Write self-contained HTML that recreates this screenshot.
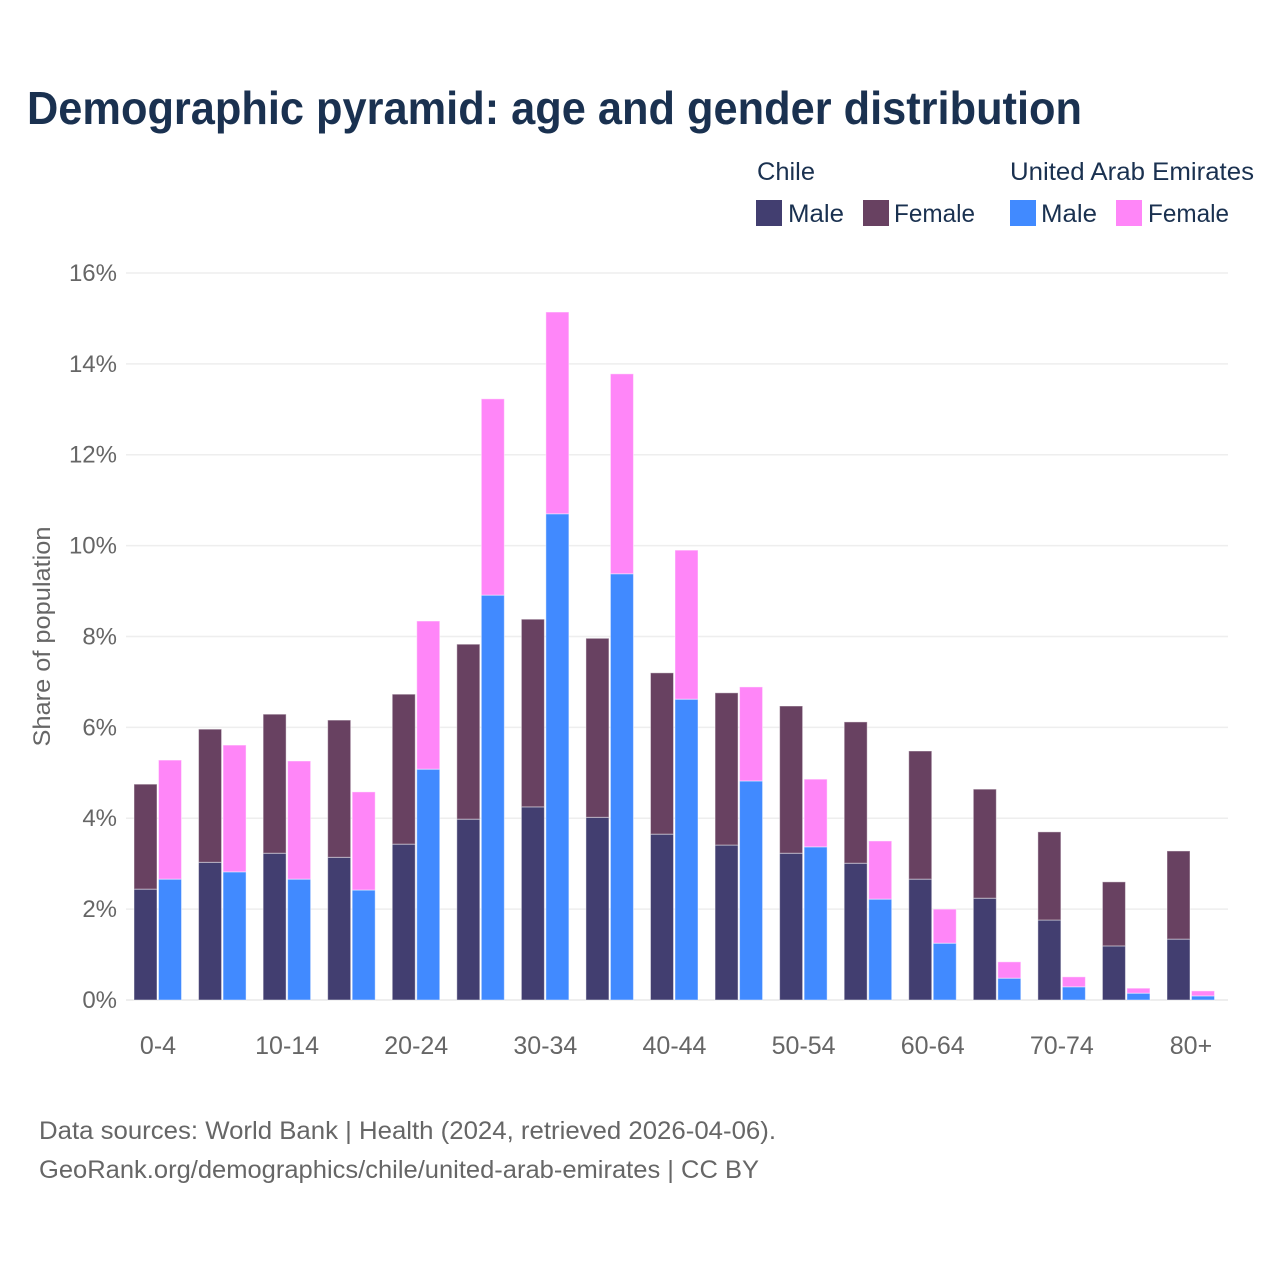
<!DOCTYPE html>
<html lang="en">
<head>
<meta charset="utf-8">
<title>Demographic pyramid: age and gender distribution</title>
<style>
  html, body { margin: 0; padding: 0; background: #fff; }
  svg { display: block; font-family: "Liberation Sans", Arial, sans-serif; }
</style>
</head>
<body>
<svg id="chart" xmlns="http://www.w3.org/2000/svg" width="1280" height="1280" viewBox="0 0 1280 1280">
  <rect width="1280" height="1280" fill="#ffffff"/>
  <text x="27" y="124" font-size="46" font-weight="700" fill="#1a3150" textLength="1055" lengthAdjust="spacingAndGlyphs">Demographic pyramid: age and gender distribution</text>

  <g font-size="25" fill="#1a3150">
    <text x="757" y="180" textLength="58" lengthAdjust="spacingAndGlyphs">Chile</text>
    <text x="1010" y="180" textLength="244" lengthAdjust="spacingAndGlyphs">United Arab Emirates</text>
    <rect x="756" y="200" width="26" height="26" fill="#423e70"/>
    <text x="788" y="222" textLength="56" lengthAdjust="spacingAndGlyphs">Male</text>
    <rect x="863" y="200" width="26" height="26" fill="#684161"/>
    <text x="894" y="222" textLength="81" lengthAdjust="spacingAndGlyphs">Female</text>
    <rect x="1010" y="200" width="26" height="26" fill="#418aff"/>
    <text x="1041" y="222" textLength="56" lengthAdjust="spacingAndGlyphs">Male</text>
    <rect x="1116" y="200" width="26" height="26" fill="#ff86f8"/>
    <text x="1148" y="222" textLength="81" lengthAdjust="spacingAndGlyphs">Female</text>
  </g>

  <g id="grid"></g>
  <g id="yticks" font-size="24" fill="#666666" text-anchor="end"></g>
  <g id="bars"></g>
  <g id="xticks" font-size="25" fill="#666666" text-anchor="middle"></g>

  <text transform="translate(50 636.5) rotate(-90)" font-size="24" fill="#666666" text-anchor="middle" textLength="220" lengthAdjust="spacingAndGlyphs">Share of population</text>

  <text x="39" y="1139" font-size="25" fill="#666666" textLength="737" lengthAdjust="spacingAndGlyphs">Data sources: World Bank | Health (2024, retrieved 2026-04-06).</text>
  <text x="39" y="1178" font-size="25" fill="#666666" textLength="720" lengthAdjust="spacingAndGlyphs">GeoRank.org/demographics/chile/united-arab-emirates | CC BY</text>
</svg>

<script>
const categories = ["0-4","5-9","10-14","15-19","20-24","25-29","30-34","35-39","40-44","45-49","50-54","55-59","60-64","65-69","70-74","75-79","80+"];
const chileMale = [2.44,3.03,3.23,3.14,3.43,3.98,4.25,4.02,3.65,3.41,3.23,3.01,2.66,2.24,1.76,1.19,1.34];
const chileFemale = [2.31,2.93,3.06,3.02,3.30,3.85,4.13,3.94,3.55,3.35,3.24,3.11,2.82,2.40,1.94,1.41,1.94];
const uaeMale = [2.66,2.82,2.66,2.42,5.08,8.91,10.70,9.38,6.62,4.82,3.37,2.22,1.25,0.48,0.29,0.15,0.09];
const uaeFemale = [2.62,2.79,2.60,2.16,3.26,4.32,4.44,4.40,3.28,2.07,1.49,1.28,0.75,0.36,0.22,0.11,0.11];
const yTickValues = [0,2,4,6,8,10,12,14,16];
const xTickLabels = ["0-4","","10-14","","20-24","","30-34","","40-44","","50-54","","60-64","","70-74","","80+"];

const NS = "http://www.w3.org/2000/svg";
const yScale = v => 1000 - v * 45.44;
const xCenter = i => 158 + i * (1033 / (categories.length - 1));
const BAR_WIDTH = 23;

function make(tag, attrs, parent) {
  const el = document.createElementNS(NS, tag);
  Object.keys(attrs).forEach(k => el.setAttribute(k, attrs[k]));
  parent.appendChild(el);
  return el;
}

const gridGroup = document.getElementById("grid");
const yTickGroup = document.getElementById("yticks");
yTickValues.forEach(v => {
  const line = make("line", {x1: 126, x2: 1228, y1: yScale(v), y2: yScale(v), stroke: "#eeeeee", "stroke-width": v === 0 ? 2 : 1.5}, gridGroup);
  
  
  const label = make("text", {x: 117, y: yScale(v) + 8}, yTickGroup);
  label.textContent = v + "%";
  
  
});

const barGroup = document.getElementById("bars");
function drawSegment(i, offset, base, value, color) {
  const top = yScale(base + value);
  const rect = make("rect", {
    x: xCenter(i) + offset,
    y: top,
    width: BAR_WIDTH,
    height: yScale(base) - top,
    fill: color,
    stroke: "#ffffff",
    "stroke-opacity": 0.45,
    "stroke-width": 1
  }, barGroup);
  
  
}
categories.forEach((c, i) => {
  drawSegment(i, -24, 0, chileMale[i], "#423e70");
  drawSegment(i, -24, chileMale[i], chileFemale[i], "#684161");
  drawSegment(i, 0.5, 0, uaeMale[i], "#418aff");
  drawSegment(i, 0.5, uaeMale[i], uaeFemale[i], "#ff86f8");
});

const xTickGroup = document.getElementById("xticks");
xTickLabels.forEach((t, i) => {
  if (!t) return;
  const label = make("text", {x: xCenter(i), y: 1054}, xTickGroup);
  label.textContent = t;
  
  
});
</script>
</body>
</html>
